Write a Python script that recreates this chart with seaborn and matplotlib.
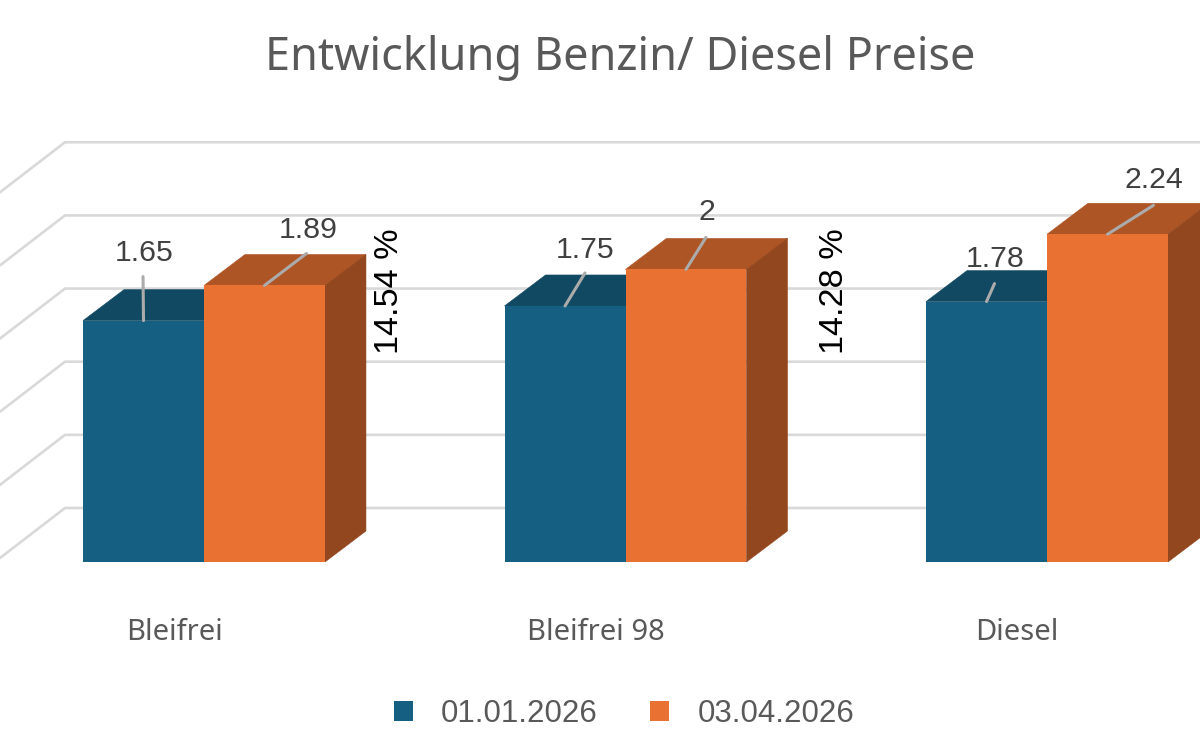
import pandas as pd
import matplotlib
matplotlib.use("Agg")
import matplotlib.pyplot as plt
from matplotlib.patches import Polygon
import seaborn as sns

# values
categories = ["Bleifrei", "Bleifrei 98", "Diesel"]
dates = ["01.01.2026", "03.04.2026"]
prices_jan = [1.65, 1.75, 1.78]
prices_apr = [1.89, 2.00, 2.24]
value_labels_jan = ["1.65", "1.75", "1.78"]
value_labels_apr = ["1.89", "2", "2.24"]
change_labels = ["14.54 %", "14.28 %"]
grid_values = [0, 0.5, 1.0, 1.5, 2.0, 2.5]

df = pd.DataFrame({
    "Sorte": categories * 2,
    "Datum": [dates[0]] * 3 + [dates[1]] * 3,
    "Preis": prices_jan + prices_apr,
})

# colours: front, top, side
front = ["#156082", "#E97132"]
top = ["#124962", "#AE5526"]
side = ["#0E3A4E", "#93471E"]
grid_col = "#D9D9D9"
leader_col = "#ABABAB"

# scale of the picture
px_x = 421.5  # pixels per category
px_y = 146.3  # pixels per euro
depth_x = 41 / px_x
depth_y = 31 / px_y
wall_x = 70 / px_x
wall_y = 54 / px_y

sns.set_theme(style="white")
plt.rcParams["font.family"] = ["Liberation Sans", "DejaVu Sans"]

fig = plt.figure(figsize=(12, 7.5), dpi=100)
ax = fig.add_axes([0, 0, 1, 1])

sns.barplot(data=df, x="Sorte", y="Preis", hue="Datum", order=categories,
            palette=front, saturation=1, width=0.574, gap=0, linewidth=0, ax=ax)

ax.set_xlim(-204 / px_x, (1200 - 204) / px_x)
ax.set_ylim((562 - 750) / px_y, 562 / px_y)
ax.axis("off")

# back wall and side wall lines
for v in grid_values:
    ax.plot([-204 / px_x, wall_x - 209 / px_x, 3],
            [v + wall_y - 50 / px_y, v + wall_y, v + wall_y],
            color=grid_col, lw=1.9, zorder=1, solid_joinstyle="miter")

# label offsets in pixels from the middle of each bar top
label_off = [[(0.5, 67.5), (20.5, 56), (8.5, 43)], [(44, 55), (20.5, 57), (46.5, 54)]]
leader_end = [[(-0.5, 44), (20, 33), (8, 18)], [(42, 32), (20, 32), (46, 29)]]
texts = [value_labels_jan, value_labels_apr]

for s, bars in enumerate(ax.containers):
    for b in bars:
        b.set_zorder(4 + s)
        x, w, h = b.get_x(), b.get_width(), b.get_height()
        ax.add_patch(Polygon([(x, h), (x + w, h), (x + w + depth_x, h + depth_y), (x + depth_x, h + depth_y)],
                             facecolor=top[s], edgecolor=top[s], lw=0.4, zorder=2 + s))
        ax.add_patch(Polygon([(x + w, 0), (x + w + depth_x, depth_y), (x + w + depth_x, h + depth_y), (x + w, h)],
                             facecolor=side[s], edgecolor=side[s], lw=0.4, zorder=2 + s))
    for i, b in enumerate(bars):
        xy = (b.get_x() + b.get_width() / 2, b.get_height())
        ax.annotate("", xy=xy, xytext=leader_end[s][i], textcoords="offset pixels",
                    arrowprops=dict(arrowstyle="-", color=leader_col, lw=2.2, shrinkA=0, shrinkB=0),
                    annotation_clip=False, zorder=8)
        ax.annotate(texts[s][i], xy=xy, xytext=label_off[s][i], textcoords="offset pixels",
                    ha="center", va="center", fontsize=21.8, color="#404040", zorder=9)

# category names sit left of the group middle
for i, name in enumerate(categories):
    ax.annotate(name, xy=(i, 0), xytext=(-30, -70), textcoords="offset pixels",
                ha="center", va="center", fontsize=21, color="#595959",
                family=["Noto Sans", "DejaVu Sans"])

# change between the dates, black and turned
change_off = [(185, 271), (209, 271)]
for i, txt in enumerate(change_labels):
    ax.annotate(txt, xy=(i, 0), xytext=change_off[i], textcoords="offset pixels",
                ha="center", va="center", rotation=90, fontsize=24.7, color="black", zorder=9)

sns.move_legend(ax, "center", bbox_to_anchor=(624 / 1200, 1 - 714 / 750), ncol=2, title=None,
                frameon=False, fontsize=22.5, handlelength=0.61, handleheight=0.61,
                handletextpad=0.9, columnspacing=1.68, borderaxespad=0, borderpad=0,
                labelcolor="#595959")

fig.text(620 / 1200, 1 - 58 / 750, "Entwicklung Benzin/ Diesel Preise", ha="center", va="center",
         fontsize=32.4, color="#595959", family=["Noto Sans", "DejaVu Sans"])

fig.savefig("out.png", dpi=100)
plt.close(fig)
